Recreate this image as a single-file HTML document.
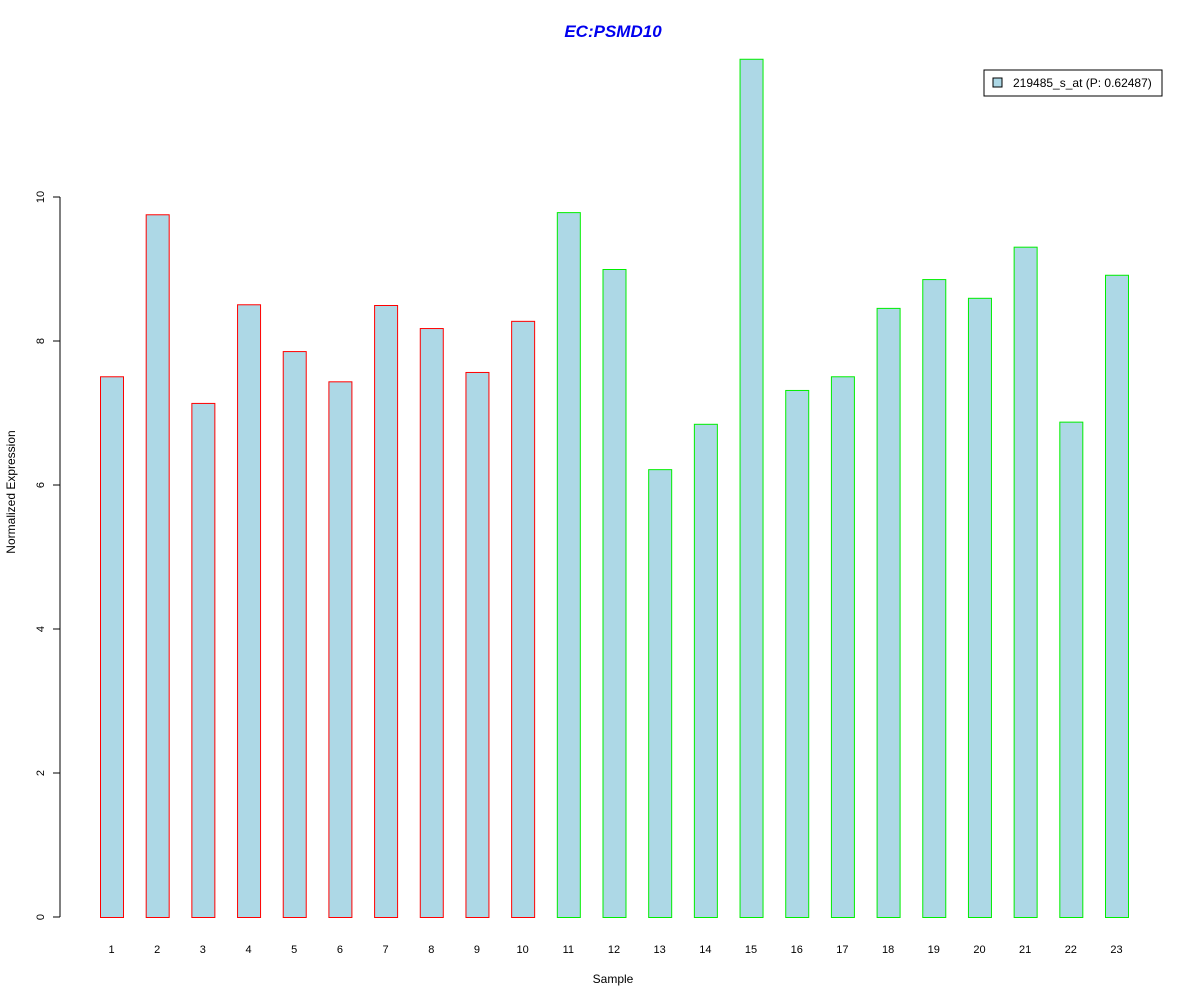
<!DOCTYPE html>
<html><head><meta charset="utf-8"><style>
html,body{margin:0;padding:0;background:#fff;}
svg{display:block;font-family:"Liberation Sans",Arial,sans-serif;}
</style></head><body>
<svg id="chart" width="1200" height="1000" xmlns="http://www.w3.org/2000/svg">
<rect width="1200" height="1000" fill="#fff"/>
<text x="613" y="37" text-anchor="middle" font-size="17" font-weight="bold" font-style="italic" fill="#0000ee">EC:PSMD10</text>
<text x="613" y="983" text-anchor="middle" font-size="12">Sample</text>
<text transform="translate(15,492) rotate(-90)" text-anchor="middle" font-size="12">Normalized Expression</text>
<g id="yaxis"></g>
<g id="bars"></g>
<g id="xlabels"></g>
<g>
<rect x="984" y="70" width="178" height="26" fill="#fff" stroke="#000"/>
<rect x="993" y="78" width="9" height="9" fill="#add8e6" stroke="#000"/>
<text x="1013" y="87" font-size="12">219485_s_at (P: 0.62487)</text>
</g>
</svg>
<script>
const categories = ["1","2","3","4","5","6","7","8","9","10","11","12","13","14","15","16","17","18","19","20","21","22","23"];
const values = [7.51,9.76,7.14,8.51,7.86,7.44,8.50,8.18,7.57,8.28,9.79,9.00,6.22,6.85,11.92,7.32,7.51,8.46,8.86,8.60,9.31,6.88,8.92];
const groups = ["a","a","a","a","a","a","a","a","a","a","b","b","b","b","b","b","b","b","b","b","b","b","b"];
const yTicks = [0,2,4,6,8,10];
const NS="http://www.w3.org/2000/svg";
const y0=917, pxPerUnit=72;
function yScale(v){return y0 - v*pxPerUnit;}
function xScale(i){return 100 + i*(1105-100)/22;}
const barW=23;
function mk(tag,attrs,parent){const e=document.createElementNS(NS,tag);for(const k in attrs)e.setAttribute(k,attrs[k]);parent.appendChild(e);return e;}
const ya=document.getElementById('yaxis');
const axl=mk('line',{x1:60,x2:60,y1:yScale(yTicks[0]),y2:yScale(yTicks[yTicks.length-1]),stroke:'#000'},ya);


yTicks.forEach(t=>{
  const tl=mk('line',{x1:53,x2:60,y1:yScale(t),y2:yScale(t),stroke:'#000'},ya);
  
  
  const tx=mk('text',{transform:`translate(44,${yScale(t)}) rotate(-90)`,'text-anchor':'middle','font-size':11},ya);
  tx.textContent=t;
  
  
});
const bg=document.getElementById('bars'), xl=document.getElementById('xlabels');
values.forEach((v,i)=>{
  const x=xScale(i);
  const r=mk('rect',{x:x+0.5,y:yScale(v)+0.5,width:barW,height:v*pxPerUnit,fill:'#add8e6',stroke:groups[i]==='a'?'#ff0000':'#00ee00'},bg);
  
  
  const t=mk('text',{x:x+barW/2,y:953,'text-anchor':'middle','font-size':11},xl);
  t.textContent=categories[i];
  
  
});
</script>
</body></html>
